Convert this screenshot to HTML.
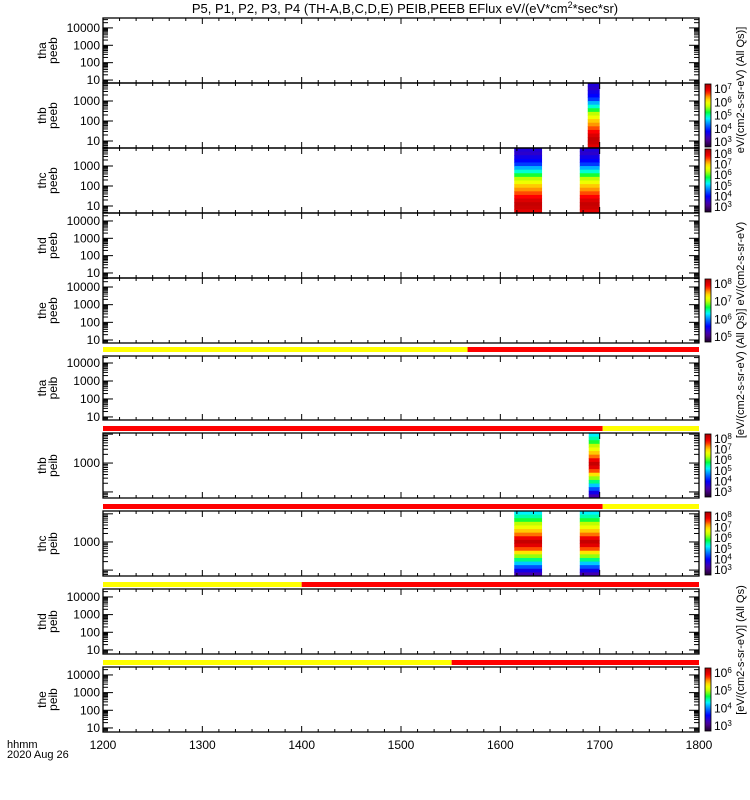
<!DOCTYPE html>
<html><head><meta charset="utf-8"><style>
body{margin:0;background:#fff;}
svg{display:block;font-family:"Liberation Sans",sans-serif;}
</style></head><body>
<svg id="chart" width="750" height="800" viewBox="0 0 750 800" xmlns="http://www.w3.org/2000/svg">
<text x="405" y="13" font-size="13" text-anchor="middle">P5, P1, P2, P3, P4 (TH-A,B,C,D,E) PEIB,PEEB EFlux eV/(eV*cm<tspan font-size="9" dy="-5">2</tspan><tspan dy="5">*sec*sr)</tspan></text>
<text x="7" y="748" font-size="11">hhmm</text>
<text x="7" y="758" font-size="11">2020 Aug 26</text>
<g id="g"></g>
</svg>
<script>
// ---- data ----
const panelNames = ["tha peeb","thb peeb","thc peeb","thd peeb","the peeb","tha peib","thb peib","thc peib","thd peib","the peib"];
const panelTops = [18,83,148,213,278,356,433,511,589,667];
const panelBottoms = [83,148,213,278,343,420,498,576,654,732];
const logTops = [4.57,3.9,3.9,4.46,4.51,4.39,4.04,4.1,4.45,4.45];
const logBottoms = [0.83,0.65,0.65,0.71,0.83,0.83,1.79,1.79,0.77,0.77];
const tickLabels = [[10,100,1000,10000],[10,100,1000],[10,100,1000],[10,100,1000,10000],[10,100,1000,10000],[10,100,1000,10000],[1000],[1000],[10,100,1000,10000],[10,100,1000,10000]];
const xTicks = [1200,1300,1400,1500,1600,1700,1800];
// spectrogram blocks: panel index, start time, end time, level profile (top->bottom)
const blockPanels = [1,2,2,6,7,7];
const blockStarts = [1688,1614,1680,1689,1614,1680];
const blockEnds = [1700,1642,1700,1700,1642,1700];
const peebProfile = [0.2,0.18,0.22,0.25,0.3,0.4,0.48,0.56,0.64,0.7,0.76,0.8,0.84,0.88,0.93,0.96,0.95,0.92];
const peibProfile = [0.45,0.5,0.56,0.64,0.7,0.76,0.82,0.9,0.96,0.92,0.84,0.74,0.62,0.52,0.42,0.32,0.22,0.14];
// flag bars: y, switch time, left colour, right colour
const flagYs = [347,426,504,582,660];
const flagSwitch = [1567,1703,1703,1400,1551];
const flagLeft = ["#ffff00","#ff0000","#ff0000","#ffff00","#ffff00"];
const flagRight = ["#ff0000","#ffff00","#ffff00","#ff0000","#ff0000"];
// colorbars
const cbPanels = [1,2,4,6,7,9];
const cbLabels = [[3,4,5,6,7],[3,4,5,6,7,8],[5,6,7,8],[3,4,5,6,7,8],[3,4,5,6,7,8],[3,4,5,6]];

// ---- helpers ----
const X0=103, X1=699, T0=1200, T1=1800;
const xs = t => X0+(t-T0)/(T1-T0)*(X1-X0);
const ys = (p,lv) => panelBottoms[p]-(lv-logBottoms[p])/(logTops[p]-logBottoms[p])*(panelBottoms[p]-panelTops[p]);
const NS="http://www.w3.org/2000/svg";
const g=document.getElementById('g');
function mk(tag,at,parent){const e=document.createElementNS(NS,tag);for(const k in at)e.setAttribute(k,at[k]);(parent||g).appendChild(e);return e;}
const stops=[[0,[30,0,40]],[0.12,[80,0,160]],[0.25,[0,0,255]],[0.38,[0,150,255]],[0.46,[0,255,255]],[0.55,[0,255,60]],[0.64,[190,255,0]],[0.72,[255,255,0]],[0.8,[255,150,0]],[0.88,[255,0,0]],[1,[170,0,0]]];
function cmap(v){v=Math.max(0,Math.min(1,v));for(let i=1;i<stops.length;i++){if(v<=stops[i][0]){const a=stops[i-1],b=stops[i];const f=(v-a[0])/(b[0]-a[0]);const c=a[1].map((x,j)=>Math.round(x+(b[1][j]-x)*f));return `rgb(${c})`;}}return 'rgb(170,0,0)';}

const defs=mk('defs',{});
const lg=mk('linearGradient',{id:'cbgrad',x1:0,y1:1,x2:0,y2:0},defs);
for(let i=0;i<=20;i++){mk('stop',{offset:i/20,'stop-color':cmap(i/20)},lg);}

// blocks
blockPanels.forEach((p,i)=>{
  const prof = p<5?peebProfile:peibProfile;
  const top=panelTops[p], bot=panelBottoms[p], h=(bot-top)/prof.length;
  const grp=mk('g',{});
  
  
  prof.forEach((v,k)=>{
    mk('rect',{x:xs(blockStarts[i]),y:top+k*h,width:xs(blockEnds[i])-xs(blockStarts[i]),height:h+0.5,fill:cmap(v)},grp);
  });
});

// flags
flagYs.forEach((y,i)=>{
  const a=mk('rect',{x:X0,y:y,width:xs(flagSwitch[i])-X0,height:5,fill:flagLeft[i]});
  
  
  const b=mk('rect',{x:xs(flagSwitch[i]),y:y,width:X1-xs(flagSwitch[i]),height:5,fill:flagRight[i]});
  
  
});

// panels
panelNames.forEach((nm,p)=>{
  const top=panelTops[p], bot=panelBottoms[p];
  const pg=mk('g',{});
  
  
  mk('rect',{x:X0,y:top,width:X1-X0,height:bot-top,fill:'none',stroke:'#000','stroke-width':1.3},pg);
  for(let h=1200;h<1800;h+=100){for(let m=0;m<6;m++){const t=h+m*100/6;const x=xs(t);const L=m==0?6:3;
    mk('line',{x1:x,y1:top,x2:x,y2:top+L,stroke:'#000'},pg);mk('line',{x1:x,y1:bot,x2:x,y2:bot-L,stroke:'#000'},pg);}}
  for(let d=0;d<=5;d++){for(let k=1;k<10;k++){const lv=d+Math.log10(k);
    if(lv<logBottoms[p]||lv>logTops[p])continue;const y=ys(p,lv);const L=k==1?10:5;
    mk('line',{x1:X0,y1:y,x2:X0+L,y2:y,stroke:'#000'},pg);mk('line',{x1:X1,y1:y,x2:X1-L,y2:y,stroke:'#000'},pg);}}
  tickLabels[p].forEach(v=>{const t=mk('text',{x:100,y:ys(p,Math.log10(v))+4,'font-size':12,'text-anchor':'end'},pg);t.textContent=v;
    
    });
  const [a,b]=nm.split(' ');const cy=(top+bot)/2;
  const lab=mk('text',{transform:`translate(48,${cy}) rotate(-90)`,'font-size':12,'text-anchor':'middle'},pg);
  
  
  mk('tspan',{x:0,y:-2},lab).textContent=a;mk('tspan',{x:0,y:9},lab).textContent=b;
});

// x tick labels
xTicks.forEach(t=>{const e=mk('text',{x:xs(t),y:749,'font-size':12,'text-anchor':'middle'});e.textContent=t;
  
  });

// colorbars
cbPanels.forEach((p,i)=>{
  const top=panelTops[p], bot=panelBottoms[p];
  const r=mk('rect',{x:705,y:top+1,width:6,height:bot-top-2,fill:'url(#cbgrad)',stroke:'#000','stroke-width':0.8});
  
  
  const labs=cbLabels[i];const n=labs.length;
  labs.forEach((e,k)=>{const y=bot-6-k*(bot-top-12)/(n-1)+4;
    const t=mk('text',{x:714,y:y,'font-size':12});t.textContent='10';
    
    
    mk('tspan',{dy:-4,'font-size':8},t).textContent=e;});
});
const cbTitles=["eV/(cm2-s-sr-eV) (All Qs)]","[eV/(cm2-s-sr-eV) (All Qs)] eV/(cm2-s-sr-eV)","[eV/(cm2-s-sr-eV)] (All Qs)"];
const cbTitleY=[90,330,650];
cbTitles.forEach((s,i)=>{const t=mk('text',{transform:`translate(744,${cbTitleY[i]}) rotate(-90)`,'font-size':11,'text-anchor':'middle'});t.textContent=s;
  
  });
</script>
</body></html>
